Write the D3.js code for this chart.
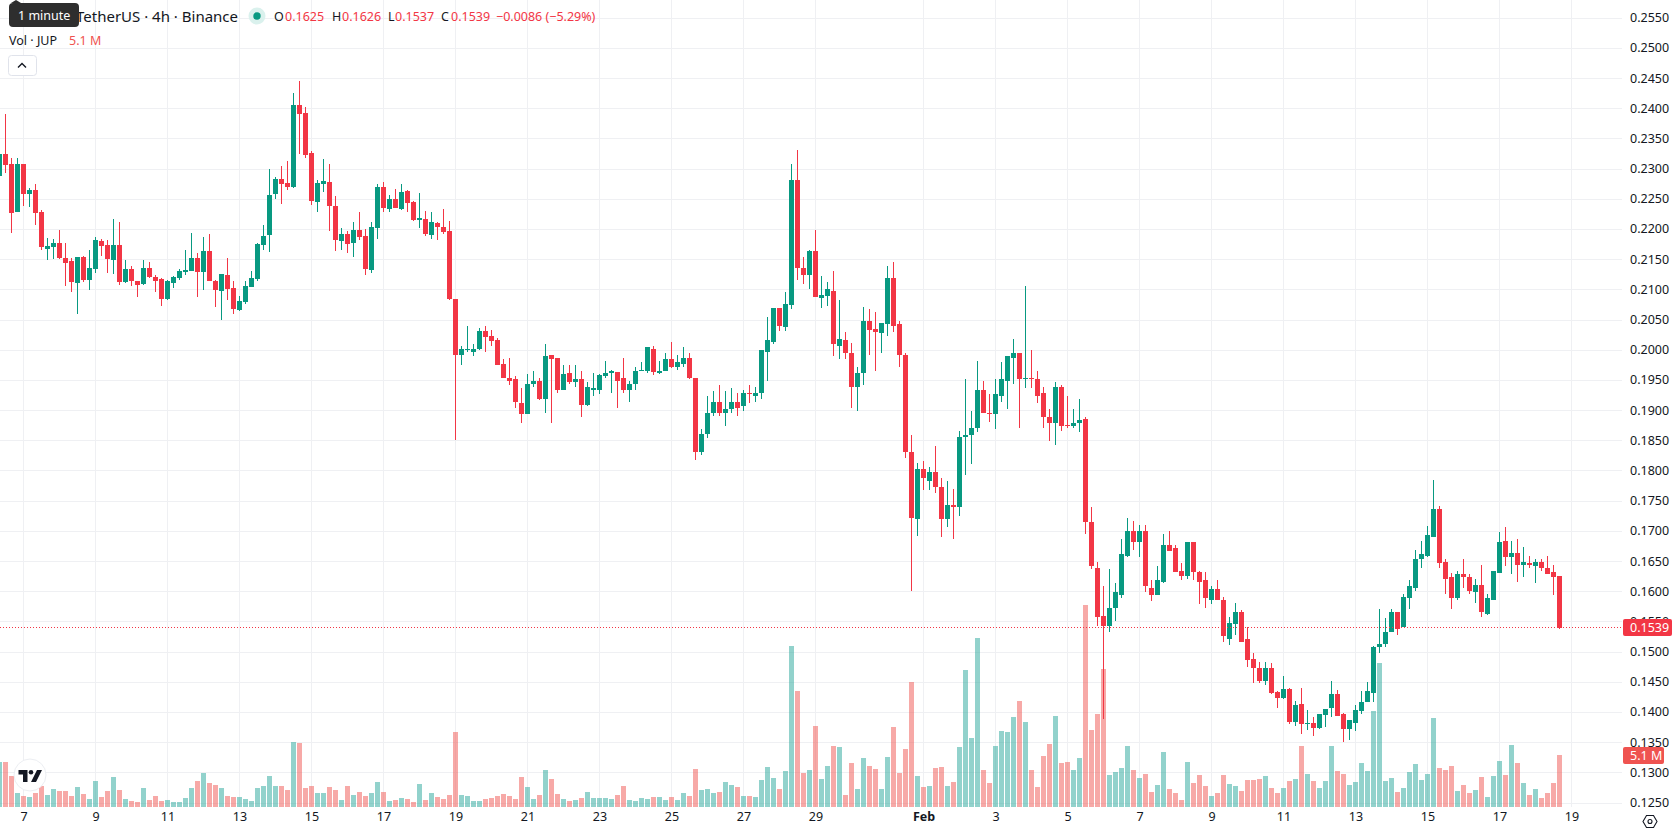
<!DOCTYPE html>
<html>
<head>
<meta charset="utf-8">
<title>JUP / TetherUS 4h</title>
<script src="https://cdn.jsdelivr.net/npm/d3@7"></script>
<style>
  html, body { margin: 0; padding: 0; background: #fff; overflow: hidden; }
  svg { display: block; }
  text { font-family: "Noto Sans", sans-serif; fill: #131722; }
</style>
</head>
<body>
<svg id="chart" width="1678" height="835"></svg>
<script>
// 4h candles, one entry per bar, oldest first.
const opens = [
  .2288,.2324,.2308,.2228,.2308,.2258,.2265,.2228,.2167,.2170,
  .2177,.2152,.2147,.2110,.2153,.2115,.2133,.2180,.2173,.2148,
  .2173,.2112,.2133,.2114,.2109,.2135,.2120,.2117,.2084,.2110,
  .2118,.2128,.2130,.2152,.2128,.2163,.2114,.2097,.2123,.2102,
  .2065,.2079,.2104,.2117,.2173,.2190,.2258,.2283,.2276,.2269,
  .2406,.2392,.2326,.2245,.2274,.2278,.2238,.2180,.2192,.2177,
  .2198,.2188,.2132,.2201,.2269,.2233,.2250,.2233,.2263,.2245,
  .2215,.2216,.2190,.2210,.2203,.2196,.2084,.1991,.1999,.1997,
  .2001,.2031,.2022,.2016,.1976,.1954,.1951,.1911,.1893,.1943,
  .1949,.1918,.1991,.1986,.1934,.1961,.1946,.1951,.1909,.1934,
  .1934,.1956,.1961,.1963,.1953,.1934,.1943,.1964,.1964,.2002,
  .1961,.1964,.1984,.1971,.1977,.1986,.1953,.1830,.1860,.1895,
  .1914,.1896,.1901,.1914,.1906,.1928,.1924,.1928,.1997,.2012,
  .2069,.2037,.2074,.2281,.2135,.2123,.2163,.2085,.2089,.2098,
  .2007,.2016,.1994,.1938,.1961,.2047,.2034,.2027,.2042,.2118,
  .2042,.1992,.1831,.1720,.1803,.1783,.1798,.1773,.1719,.1743,
  .1740,.1855,.1858,.1870,.1934,.1896,.1893,.1923,.1949,.1986,
  .1994,.1952,.1954,.1951,.1928,.1889,.1879,.1939,.1876,.1874,
  .1879,.1886,.1715,.1639,.1559,.1543,.1573,.1594,.1659,.1699,
  .1681,.1700,.1606,.1593,.1616,.1676,.1671,.1634,.1626,.1681,
  .1632,.1618,.1586,.1604,.1586,.1521,.1546,.1566,.1521,.1488,
  .1473,.1452,.1473,.1433,.1423,.1438,.1384,.1413,.1380,.1382,
  .1374,.1395,.1406,.1429,.1396,.1371,.1381,.1402,.1416,.1432,
  .1507,.1512,.1532,.1565,.1540,.1588,.1606,.1653,.1658,.1689,
  .1736,.1648,.1623,.1588,.1628,.1623,.1598,.1610,.1563,.1586,
  .1630,.1683,.1656,.1664,.1643,.1646,.1641,.1648,.1639,.1631,
  .1625
];
const highs = [
  .2324,.2391,.2318,.2318,.2308,.2268,.2274,.2231,.2185,.2183,
  .2198,.2177,.2152,.2153,.2155,.2165,.2187,.2183,.2182,.2216,
  .2211,.2148,.2138,.2114,.2148,.2145,.2123,.2118,.2115,.2122,
  .2133,.2165,.2193,.2160,.2187,.2192,.2115,.2125,.2152,.2114,
  .2089,.2114,.2130,.2177,.2206,.2299,.2286,.2304,.2313,.2425,
  .2445,.2402,.2329,.2281,.2316,.2308,.2255,.2201,.2196,.2211,
  .2228,.2200,.2211,.2274,.2278,.2256,.2266,.2274,.2265,.2246,
  .2260,.2230,.2228,.2211,.2233,.2213,.2084,.2006,.2039,.2009,
  .2036,.2039,.2032,.2019,.1984,.1987,.1956,.1936,.1959,.1964,
  .1954,.2009,.1992,.1987,.1974,.1974,.1974,.1964,.1946,.1961,
  .1959,.1982,.1966,.1963,.1987,.1948,.1972,.1979,.2004,.2007,
  .1982,.1994,.2012,.1991,.2004,.1994,.1953,.1868,.1924,.1931,
  .1941,.1931,.1936,.1929,.1933,.1941,.1938,.1999,.2054,.2069,
  .2069,.2095,.2308,.2331,.2153,.2165,.2198,.2122,.2113,.2130,
  .2082,.2030,.2011,.1972,.2070,.2067,.2062,.2045,.2138,.2145,
  .2047,.1994,.1858,.1813,.1815,.1806,.1840,.1788,.1783,.1770,
  .1866,.1951,.1898,.1982,.1949,.1926,.1951,.1979,.1989,.2017,
  .1994,.2105,.1999,.1964,.1939,.1901,.1946,.1941,.1924,.1901,
  .1919,.1889,.1740,.1649,.1608,.1637,.1614,.1686,.1722,.1717,
  .1709,.1710,.1619,.1642,.1694,.1700,.1677,.1646,.1681,.1682,
  .1634,.1631,.1609,.1618,.1591,.1558,.1581,.1569,.1540,.1498,
  .1483,.1483,.1481,.1435,.1460,.1440,.1418,.1440,.1403,.1392,
  .1397,.1405,.1452,.1437,.1399,.1387,.1411,.1434,.1450,.1510,
  .1570,.1555,.1570,.1566,.1596,.1618,.1669,.1683,.1708,.1785,
  .1741,.1653,.1630,.1633,.1653,.1628,.1621,.1644,.1596,.1634,
  .1698,.1706,.1683,.1686,.1673,.1658,.1653,.1653,.1659,.1644,
  .1626
];
const lows = [
  .2288,.2293,.2193,.2228,.2238,.2236,.2206,.2165,.2148,.2150,
  .2150,.2105,.2095,.2060,.2112,.2099,.2127,.2155,.2127,.2125,
  .2107,.2110,.2105,.2087,.2107,.2118,.2095,.2072,.2082,.2102,
  .2115,.2123,.2130,.2087,.2099,.2114,.2070,.2050,.2082,.2060,
  .2064,.2075,.2104,.2114,.2165,.2162,.2250,.2241,.2265,.2268,
  .2324,.2318,.2240,.2228,.2261,.2196,.2163,.2165,.2160,.2153,
  .2182,.2123,.2127,.2183,.2228,.2228,.2235,.2231,.2228,.2213,
  .2201,.2188,.2183,.2182,.2192,.2082,.1850,.1974,.1996,.1989,
  .1999,.1996,.2006,.1974,.1953,.1941,.1903,.1878,.1893,.1939,
  .1916,.1896,.1878,.1929,.1934,.1943,.1939,.1888,.1906,.1924,
  .1926,.1954,.1929,.1904,.1929,.1913,.1934,.1964,.1961,.1958,
  .1959,.1964,.1969,.1967,.1972,.1951,.1818,.1825,.1853,.1891,
  .1891,.1873,.1895,.1891,.1899,.1911,.1914,.1919,.1949,.2009,
  .2031,.2031,.2067,.2115,.2109,.2100,.2087,.2069,.2072,.1989,
  .1984,.1984,.1903,.1899,.1941,.1992,.1964,.1994,.2022,.2030,
  .1972,.1820,.1601,.1692,.1768,.1767,.1763,.1690,.1707,.1687,
  .1725,.1793,.1810,.1863,.1896,.1881,.1868,.1913,.1901,.1943,
  .1871,.1936,.1936,.1911,.1870,.1848,.1843,.1865,.1871,.1871,
  .1863,.1694,.1637,.1543,.1389,.1533,.1551,.1588,.1657,.1669,
  .1657,.1599,.1584,.1593,.1613,.1667,.1631,.1618,.1621,.1619,
  .1578,.1573,.1579,.1586,.1516,.1511,.1528,.1516,.1475,.1448,
  .1448,.1445,.1430,.1407,.1422,.1380,.1377,.1364,.1370,.1360,
  .1372,.1375,.1392,.1394,.1351,.1354,.1369,.1396,.1416,.1416,
  .1498,.1508,.1532,.1528,.1540,.1571,.1601,.1639,.1656,.1689,
  .1639,.1595,.1571,.1586,.1606,.1596,.1581,.1557,.1560,.1585,
  .1630,.1641,.1628,.1615,.1623,.1639,.1613,.1633,.1628,.1593,
  .1537
];
const closes = [
  .2324,.2306,.2226,.2308,.2258,.2265,.2226,.2170,.2172,.2177,
  .2152,.2143,.2112,.2153,.2115,.2135,.2182,.2172,.2150,.2173,
  .2112,.2133,.2114,.2107,.2135,.2120,.2114,.2084,.2114,.2120,
  .2130,.2132,.2152,.2128,.2163,.2114,.2099,.2125,.2100,.2067,
  .2080,.2105,.2118,.2175,.2188,.2256,.2283,.2274,.2269,.2406,
  .2391,.2323,.2246,.2276,.2279,.2238,.2182,.2192,.2175,.2198,
  .2187,.2133,.2203,.2269,.2235,.2250,.2235,.2261,.2243,.2215,
  .2218,.2192,.2211,.2203,.2195,.2084,.1991,.2001,.2001,.2002,
  .2031,.2021,.2014,.1974,.1953,.1949,.1913,.1893,.1944,.1948,
  .1918,.1989,.1984,.1934,.1959,.1946,.1951,.1908,.1938,.1936,
  .1958,.1961,.1964,.1949,.1934,.1944,.1964,.1966,.2004,.1963,
  .1964,.1984,.1972,.1979,.1987,.1953,.1830,.1861,.1895,.1914,
  .1895,.1901,.1914,.1904,.1928,.1926,.1929,.1999,.2016,.2069,
  .2039,.2075,.2281,.2135,.2123,.2163,.2087,.2090,.2100,.2009,
  .2017,.1994,.1938,.1961,.2047,.2032,.2029,.2045,.2118,.2040,
  .1991,.1830,.1722,.1803,.1787,.1798,.1772,.1719,.1743,.1740,
  .1856,.1858,.1871,.1933,.1896,.1893,.1926,.1951,.1989,.1994,
  .1951,.1954,.1951,.1924,.1888,.1879,.1939,.1874,.1873,.1879,
  .1884,.1714,.1641,.1558,.1543,.1573,.1598,.1662,.1700,.1681,
  .1700,.1608,.1593,.1618,.1677,.1667,.1631,.1626,.1681,.1631,
  .1616,.1588,.1604,.1586,.1525,.1548,.1566,.1516,.1486,.1472,
  .1452,.1473,.1432,.1423,.1438,.1384,.1412,.1380,.1382,.1374,
  .1397,.1405,.1429,.1394,.1372,.1386,.1404,.1417,.1434,.1508,
  .1513,.1532,.1565,.1538,.1590,.1608,.1654,.1661,.1693,.1737,
  .1646,.1621,.1588,.1628,.1623,.1600,.1610,.1565,.1588,.1633,
  .1681,.1656,.1664,.1643,.1648,.1643,.1648,.1639,.1628,.1623,
  .1539
];
// Traded volume per bar, in millions of JUP.
const volumes = [
  4.42,4.42,3.04,1.35,1.06,.96,1.35,2.05,1.16,1.75,
  1.55,1.55,1.06,1.95,1.25,.76,2.54,.96,1.55,2.94,
  1.65,.76,.56,.46,1.85,.66,1.06,.56,.66,.46,
  .46,.86,1.85,2.54,3.33,2.34,2.15,1.85,1.06,.96,
  .96,.76,.56,1.85,2.05,3.04,2.05,2.05,1.65,6.40,
  6.30,1.85,2.05,1.35,1.35,1.95,1.65,.66,2.05,1.16,
  1.45,1.06,1.35,2.44,1.45,.56,.66,.86,.76,.46,
  2.24,.66,1.35,.96,.76,1.16,7.39,1.16,1.06,.56,
  .56,.76,.86,1.06,1.25,1.06,.76,2.94,1.95,.76,
  1.16,3.63,2.74,1.25,.76,.56,.66,.86,1.45,.86,
  .86,.86,.76,1.16,2.05,.66,.56,.86,.76,.96,
  .96,.66,.96,.66,1.35,1.06,3.73,1.65,1.75,1.35,
  1.45,2.44,2.15,1.95,1.06,1.06,.96,2.64,3.93,2.84,
  1.75,3.53,15.91,11.45,3.33,3.63,7.99,2.74,4.03,6.01,
  5.91,1.16,4.32,1.75,4.82,4.03,3.73,1.75,4.92,7.89,
  3.33,5.71,12.34,3.04,1.95,2.05,3.83,3.93,2.05,2.44,
  5.91,13.53,6.80,16.70,3.63,2.34,6.01,7.49,7.39,8.88,
  10.46,8.38,3.63,1.95,5.02,6.20,8.98,4.32,4.42,3.63,
  4.82,19.97,7.59,9.17,13.63,3.14,3.43,3.83,6.01,3.63,
  2.84,3.23,1.45,2.15,5.41,1.75,1.35,.66,4.42,2.34,
  3.14,2.05,1.06,1.35,3.14,2.24,2.05,1.55,2.64,2.64,
  2.74,3.04,1.85,1.35,1.85,2.54,2.74,6.01,3.23,2.54,
  1.85,2.54,6.01,3.53,3.23,2.15,2.44,4.32,3.53,9.47,
  14.22,2.54,2.84,1.45,1.85,3.43,4.22,2.64,3.23,8.78,
  3.83,3.63,4.03,1.55,2.15,1.35,1.65,2.94,.96,3.04,
  4.52,3.14,6.11,4.32,2.34,1.16,1.75,.86,1.35,2.34,
  5.1
];
const priceTicks = d3.range(26, -1, -1).map(k => 0.125 + k * 0.005);
const dateTicks = [
  [2026,0,7],[2026,0,9],[2026,0,11],[2026,0,13],[2026,0,15],[2026,0,17],[2026,0,19],
  [2026,0,21],[2026,0,23],[2026,0,25],[2026,0,27],[2026,0,29],[2026,1,1],[2026,1,3],
  [2026,1,5],[2026,1,7],[2026,1,9],[2026,1,11],[2026,1,13],[2026,1,15],[2026,1,17],[2026,1,19]
].map(([y, m, d]) => new Date(Date.UTC(y, m, d)));
const lastPrice = closes[closes.length - 1];
const lastVolume = volumes[volumes.length - 1];

const UP = "#089981", DOWN = "#F23645";
const VOL_UP = "rgba(38,166,154,0.5)", VOL_DOWN = "rgba(239,83,80,0.5)";
const GRID = "#eff0f3", INK = "#131722";
const PANE_RIGHT = 1622, PANE_BOTTOM = 807;

const firstBar = Date.UTC(2026, 0, 6, 8);
const FOUR_HOURS = 4 * 3600 * 1000;
const bars = opens.map((o, i) => ({
  t: new Date(firstBar + i * FOUR_HOURS),
  o, h: highs[i], l: lows[i], c: closes[i], v: volumes[i]
}));

const x = d3.scaleUtc()
  .domain([bars[0].t, bars[bars.length - 1].t])
  .range([-0.5, 1559.5]);
const y = d3.scaleLinear().domain([0.125, 0.255]).range([802.5, 17.7]);
const yVol = d3.scaleLinear().domain([0, 20]).range([806.5, 604.5]);

const svg = d3.select("#chart");
svg.append("rect").attr("width", 1678).attr("height", 835).attr("fill", "#fff");

// Grid
const grid = svg.append("g").attr("shape-rendering", "crispEdges").attr("stroke", GRID);
grid.selectAll("line.h").data(priceTicks).join("line")
  .attr("x1", 0).attr("x2", PANE_RIGHT)
  .attr("y1", d => Math.round(y(d)) + 0.5).attr("y2", d => Math.round(y(d)) + 0.5);
grid.selectAll("line.v").data(dateTicks).join("line")
  .attr("y1", 0).attr("y2", PANE_BOTTOM)
  .attr("x1", d => Math.floor(x(d)) + 0.5).attr("x2", d => Math.floor(x(d)) + 0.5);

// Volume histogram
svg.append("g").attr("shape-rendering", "crispEdges")
  .selectAll("rect").data(bars).join("rect")
  .attr("x", d => Math.floor(x(d.t)) - 2)
  .attr("width", 5)
  .attr("y", d => yVol(d.v))
  .attr("height", d => yVol(0) - yVol(d.v))
  .attr("fill", d => d.c >= d.o ? VOL_UP : VOL_DOWN);

// Candles
const candles = svg.append("g").attr("shape-rendering", "crispEdges")
  .selectAll("g").data(bars).join("g")
  .attr("fill", d => d.c >= d.o ? UP : DOWN);
candles.append("rect")
  .attr("x", d => Math.floor(x(d.t)))
  .attr("width", 1)
  .attr("y", d => y(d.h))
  .attr("height", d => Math.max(1, y(d.l) - y(d.h)));
candles.append("rect")
  .attr("x", d => Math.floor(x(d.t)) - 2)
  .attr("width", 5)
  .attr("y", d => y(Math.max(d.o, d.c)))
  .attr("height", d => Math.max(1, Math.abs(y(d.o) - y(d.c))));

// Last-price line
svg.append("line")
  .attr("x1", 0).attr("x2", PANE_RIGHT)
  .attr("y1", Math.round(y(lastPrice)) + 0.5 - 1).attr("y2", Math.round(y(lastPrice)) + 0.5 - 1)
  .attr("stroke", DOWN).attr("stroke-width", 1).attr("stroke-dasharray", "1 2");

// Price axis
const axisRight = d3.axisRight(y).tickValues(priceTicks).tickFormat(d3.format(".4f")).tickSize(0).tickPadding(0);
const gRight = svg.append("g").attr("transform", "translate(1630,0)").call(axisRight);
gRight.select(".domain").remove();
gRight.selectAll("text").attr("font-size", 12.5).attr("font-family", '"Noto Sans", sans-serif').style("fill", INK);

// Time axis
const timeFormat = d => d.getUTCDate() === 1 ? "Feb" : String(d.getUTCDate());
const axisBottom = d3.axisBottom(x).tickValues(dateTicks).tickFormat(timeFormat).tickSize(0).tickPadding(0);
const gBottom = svg.append("g").attr("transform", "translate(0,812)").call(axisBottom);
gBottom.select(".domain").remove();
gBottom.selectAll("text")
  .attr("font-size", 12.5).attr("font-family", '"Noto Sans", sans-serif').style("fill", INK)
  .attr("font-weight", d => d.getUTCDate() === 1 ? 700 : 400);

// Value tags on the price axis
function tag(top, right, height, fill, label) {
  svg.append("rect").attr("x", 1623).attr("y", top)
    .attr("width", right - 1623).attr("height", height).attr("rx", 2).attr("fill", fill);
  svg.append("text").attr("x", 1630).attr("y", top + height / 2).attr("dy", "0.35em")
    .attr("font-size", 12.5).style("fill", "#fff").text(label);
}
tag(619, 1672, 17, DOWN, d3.format(".4f")(lastPrice));
tag(747, 1664, 17, "#ef5350", d3.format(".1f")(lastVolume) + " M");

// Legend rows
function label(px, py, size, color, content) {
  svg.append("text").attr("x", px).attr("y", py).attr("font-size", size).style("fill", color).text(content);
}
label(76, 22, 15, INK, "TetherUS · 4h · Binance");
svg.append("circle").attr("cx", 257).attr("cy", 16).attr("r", 8.5).attr("fill", "#daf1ed");
svg.append("circle").attr("cx", 257).attr("cy", 16).attr("r", 3.7).attr("fill", UP);
const fmt4 = d3.format(".4f");
const lastBar = bars[bars.length - 1];
[
  [274, "O", 285, lastBar.o], [332, "H", 342, lastBar.h],
  [388, "L", 395, lastBar.l], [441, "C", 451, lastBar.c]
].forEach(([lx, letter, vx, value]) => {
  label(lx, 21, 12.5, INK, letter);
  label(vx, 21, 12.5, DOWN, fmt4(value));
});
label(496, 21, 12.5, DOWN, "−0.0086 (−5.29%)");
label(9, 45, 12.5, INK, "Vol · JUP");
label(69, 45, 12.5, "#ef5350", "5.1 M");

// Collapse button
svg.append("rect").attr("x", 8.5).attr("y", 55.5).attr("width", 28).attr("height", 20).attr("rx", 3)
  .attr("fill", "#fff").attr("stroke", "#e0e3eb");
svg.append("path").attr("d", "M18 67.5 L22 63.5 L26 67.5").attr("fill", "none")
  .attr("stroke", INK).attr("stroke-width", 1.4);

// Hover hint
svg.append("path").attr("d", "M11 3 L16 0 L21 3 Z").attr("fill", "#2e2e2e");
svg.append("rect").attr("x", 9).attr("y", 3).attr("width", 70).attr("height", 24).attr("rx", 4).attr("fill", "#2e2e2e");
label(18, 20, 12.5, "#fff", "1 minute");

// Brand badge
svg.append("circle").attr("cx", 30).attr("cy", 775).attr("r", 16).attr("fill", "#fff").attr("stroke", "#eceef2");
svg.append("path").attr("fill", INK)
  .attr("d", "M18.5 770 H27.5 V782 H23 V774.5 H18.5 Z M37 770 H42 L36 782 H31 Z");
svg.append("circle").attr("cx", 31).attr("cy", 772.3).attr("r", 2.3).attr("fill", INK);

// Settings hexagon
const hex = svg.append("g").attr("transform", "translate(1650,821.5)").attr("fill", "none").attr("stroke", INK).attr("stroke-width", 1.1);
hex.append("path").attr("d", "M-7 0 L-3.5 -6 H3.5 L7 0 L3.5 6 H-3.5 Z");
hex.append("circle").attr("r", 2);
</script>
</body>
</html>
